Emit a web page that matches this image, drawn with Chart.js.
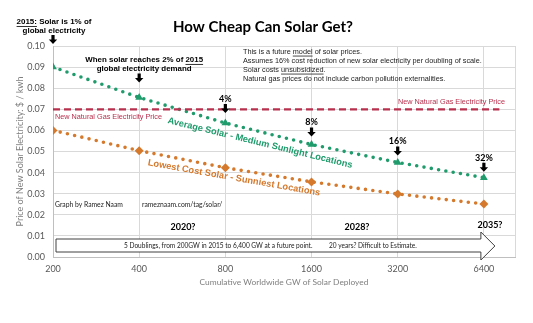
<!DOCTYPE html>
<html>
<head>
<meta charset="utf-8">
<script src="https://cdn.jsdelivr.net/npm/chart.js@4.4.1/dist/chart.umd.min.js"></script>
<style>
  html, body { margin: 0; padding: 0; background: #fff; }
  #wrap { width: 533px; height: 323px; }
</style>
</head>
<body>
<div id="wrap"><canvas id="solar"></canvas></div>
<script>
// cumulative GW of solar deployed, one doubling per step
const gw = [200, 400, 800, 1600, 3200, 6400];
const gwLabels = ["200", "400", "800", "1600", "3200", "6400"];
// price of new solar electricity, $ / kWh
const avgSolar = [0.090, 0.0756, 0.0635, 0.0533, 0.0448, 0.0376];
const lowSolar = [0.060, 0.0504, 0.0423, 0.0356, 0.0299, 0.0251];
const gasPrice = [0.07, 0.07];
const gasGw = [200, 7250];
const shareLabels = ["", "", "4%", "8%", "16%", "32%"];
const yearLabels = ["2020?", "2028?", "2035?"];

const GREEN = "#1f9b6c";
const ORANGE = "#d5792c";
const RED = "#b7304d";
const GRID = "#d9d9d9";
const SANS = "Lato, 'Open Sans', sans-serif";
const ARIAL = "'Liberation Sans', Arial, sans-serif";
const X_MAX = 8220;

function fitFont(ctx, text, weight, family, width) {
  ctx.font = weight + " 20px " + family;
  const size = 20 * width / ctx.measureText(text).width;
  ctx.font = weight + " " + size.toFixed(2) + "px " + family;
  return size;
}

// draws pieces of text in a row, some underlined
function runs(ctx, parts, x, y, align, size) {
  const total = parts.reduce((s, p) => s + ctx.measureText(p[0]).width, 0);
  let cx = align === "center" ? x - total / 2 : align === "right" ? x - total : x;
  ctx.textAlign = "left";
  parts.forEach(([t, u]) => {
    const w = ctx.measureText(t).width;
    ctx.fillText(t, cx, y);
    if (u) ctx.fillRect(cx, y + size * 0.5, w, 0.8);
    cx += w;
  });
}

function downArrow(ctx, x, tip) {
  ctx.beginPath();
  ctx.moveTo(x - 1.6, tip - 9);
  ctx.lineTo(x + 1.6, tip - 9);
  ctx.lineTo(x + 1.6, tip - 4.5);
  ctx.lineTo(x + 4.2, tip - 4.5);
  ctx.lineTo(x, tip);
  ctx.lineTo(x - 4.2, tip - 4.5);
  ctx.lineTo(x - 1.6, tip - 4.5);
  ctx.closePath();
  ctx.fill();
}

const annotations = {
  id: "annotations",
  afterDraw(chart) {
    const { ctx, chartArea: a, scales: { x, y } } = chart;
    const px = g => x.getPixelForValue(g);
    const py = v => y.getPixelForValue(v);
    ctx.save();
    ctx.textBaseline = "middle";

    // title
    ctx.fillStyle = "#000";
    ctx.textAlign = "center";
    fitFont(ctx, "How Cheap Can Solar Get?", "bold", SANS, 180);
    ctx.fillText("How Cheap Can Solar Get?", 263, 27);

    // axis titles
    ctx.fillStyle = "#7f7f7f";
    const yTitle = "Price of New Solar Electricity: $ / kwh";
    fitFont(ctx, yTitle, "normal", SANS, 150);
    ctx.save();
    ctx.translate(20, (a.top + a.bottom) / 2);
    ctx.rotate(-Math.PI / 2);
    ctx.fillText(yTitle, 0, 0);
    ctx.restore();
    const xTitle = "Cumulative Worldwide GW of Solar Deployed";
    fitFont(ctx, xTitle, "normal", SANS, 169);
    ctx.fillText(xTitle, (a.left + a.right) / 2, 282);

    // 2015 note
    ctx.fillStyle = "#000";
    let s = fitFont(ctx, "2015: Solar is 1% of", "bold", ARIAL, 75);
    runs(ctx, [["2015:", true], [" Solar is 1% of", false]], px(gw[0]) + 1, 22, "center", s);
    ctx.textAlign = "center";
    ctx.fillText("global electricity", px(gw[0]) + 1, 31);

    s = fitFont(ctx, "When solar reaches 2% of 2015", "bold", ARIAL, 118);
    runs(ctx, [["When solar reaches 2% of ", false], ["2015", true]], px(gw[1]) + 5, 60, "center", s);
    ctx.textAlign = "center";
    ctx.fillText("global electricity demand", px(gw[1]) + 5, 69);

    // arrows and share labels
    const tipOff = [0, -15, -10, -8, -7, -6];
    ctx.font = "bold 9px " + SANS;
    gw.forEach((g, i) => {
      const tip = i === 0 ? a.top - 2 : py(avgSolar[i]) + tipOff[i];
      downArrow(ctx, px(g), tip);
      if (shareLabels[i]) ctx.fillText(shareLabels[i], px(g), tip - 14);
    });

    // notes block
    ctx.fillStyle = "#222";
    s = fitFont(ctx, "Assumes 16% cost reduction of new solar electricity per doubling of scale.", "normal", ARIAL, 239);
    runs(ctx, [["This is a future ", false], ["model", true], [" of solar prices.", false]], 243, 52, "left", s);
    runs(ctx, [["Assumes 16% cost reduction of new solar electricity per doubling of scale.", false]], 243, 61, "left", s);
    runs(ctx, [["Solar costs ", false], ["unsubsidized", true], [".", false]], 243, 70, "left", s);
    runs(ctx, [["Natural gas prices do not include carbon pollution externalities.", false]], 243, 79, "left", s);

    // gas labels
    ctx.fillStyle = RED;
    fitFont(ctx, "New Natural Gas Electricity Price", "normal", ARIAL, 107);
    ctx.textAlign = "right";
    ctx.fillText("New Natural Gas Electricity Price", 505, py(gasPrice[0]) - 7);
    ctx.textAlign = "left";
    ctx.fillText("New Natural Gas Electricity Price", 55, py(gasPrice[0]) + 8);

    // series labels along the lines
    ctx.textAlign = "center";
    ctx.fillStyle = GREEN;
    fitFont(ctx, "Average Solar - Medium Sunlight Locations", "bold", ARIAL, 190);
    ctx.save();
    ctx.translate(260, 143);
    ctx.rotate(13.7 * Math.PI / 180);
    ctx.fillText("Average Solar - Medium Sunlight Locations", 0, 0);
    ctx.restore();
    ctx.fillStyle = ORANGE;
    fitFont(ctx, "Lowest Cost Solar - Sunniest Locations", "bold", ARIAL, 175);
    ctx.save();
    ctx.translate(234, 178);
    ctx.rotate(10 * Math.PI / 180);
    ctx.fillText("Lowest Cost Solar - Sunniest Locations", 0, 0);
    ctx.restore();

    // credits
    ctx.fillStyle = "#222";
    ctx.textAlign = "left";
    fitFont(ctx, "Graph by Ramez Naam", "normal", SANS, 68);
    ctx.fillText("Graph by Ramez Naam", 55, 205);
    ctx.fillText("rameznaam.com/tag/solar/", 142, 205);

    // year guesses
    ctx.fillStyle = "#000";
    ctx.textAlign = "center";
    ctx.font = "bold 9px " + SANS;
    ctx.fillText(yearLabels[0], 183, 227);
    ctx.fillText(yearLabels[1], 357, 227);
    ctx.fillText(yearLabels[2], 490, 225);

    // doubling arrow
    const x0 = px(gw[0]) + 3, x1 = px(gw[5]) - 3, tipX = px(gw[5]) + 11;
    ctx.beginPath();
    ctx.moveTo(x0, 239);
    ctx.lineTo(x1, 239);
    ctx.lineTo(x1, 232);
    ctx.lineTo(tipX, 246);
    ctx.lineTo(x1, 260);
    ctx.lineTo(x1, 252);
    ctx.lineTo(x0, 252);
    ctx.closePath();
    ctx.fillStyle = "#fff";
    ctx.fill();
    ctx.strokeStyle = "#404040";
    ctx.lineWidth = 1;
    ctx.stroke();
    ctx.fillStyle = "#222";
    ctx.textAlign = "left";
    fitFont(ctx, "5 Doublings, from 200GW in 2015 to 6,400 GW at a future point.", "normal", SANS, 189);
    ctx.fillText("5 Doublings, from 200GW in 2015 to 6,400 GW at a future point.", 124, 246);
    ctx.fillText("20 years? Difficult to Estimate.", 329, 246);

    ctx.restore();
  }
};

new Chart(document.getElementById("solar"), {
  type: "line",
  data: {
    datasets: [
      {
        label: "New Natural Gas Electricity Price",
        data: gasGw.map((g, i) => ({ x: g, y: gasPrice[i] })),
        borderColor: RED,
        borderWidth: 2.2,
        borderDash: [7, 4],
        pointRadius: 0,
      },
      {
        label: "Average Solar - Medium Sunlight Locations",
        data: gw.map((g, i) => ({ x: g, y: avgSolar[i] })),
        borderColor: GREEN,
        backgroundColor: GREEN,
        borderWidth: 3.6,
        borderDash: [0, 7.4],
        borderCapStyle: "round",
        pointStyle: "triangle",
        pointRadius: 4.5,
        pointBorderWidth: 0,
      },
      {
        label: "Lowest Cost Solar - Sunniest Locations",
        data: gw.map((g, i) => ({ x: g, y: lowSolar[i] })),
        borderColor: ORANGE,
        backgroundColor: ORANGE,
        borderWidth: 3.6,
        borderDash: [0, 7.4],
        borderCapStyle: "round",
        pointStyle: "rectRot",
        pointRadius: 4.5,
        pointBorderWidth: 0,
      },
    ],
  },
  options: {
    responsive: true,
    maintainAspectRatio: false,
    animation: false,
    devicePixelRatio: 1,
    layout: { padding: { top: 46, right: 18, left: 0, bottom: 0 } },
    plugins: {
      legend: { display: false },
      tooltip: { enabled: false },
    },
    scales: {
      x: {
        type: "logarithmic",
        min: gw[0],
        max: X_MAX,
        afterBuildTicks: (scale) => {
          scale.ticks = gw.map(v => ({ value: v })).concat({ value: X_MAX });
        },
        afterFit: (scale) => { scale.height = 66; },
        ticks: {
          autoSkip: false,
          maxRotation: 0,
          padding: 7,
          color: "#595959",
          font: { family: SANS, size: 9 },
          callback: (v) => {
            const i = gw.indexOf(v);
            return i < 0 ? "" : gwLabels[i];
          },
        },
        grid: { color: GRID, drawTicks: false },
        border: { color: "#bfbfbf" },
      },
      y: {
        min: 0,
        max: 0.1,
        afterFit: (scale) => { scale.width = 53; },
        ticks: {
          stepSize: 0.01,
          padding: 8,
          color: "#595959",
          font: { family: SANS, size: 9 },
          callback: (v) => v.toFixed(2),
        },
        grid: { color: GRID, drawTicks: false },
        border: { color: "#bfbfbf" },
      },
    },
  },
  plugins: [annotations],
});
</script>
</body>
</html>
